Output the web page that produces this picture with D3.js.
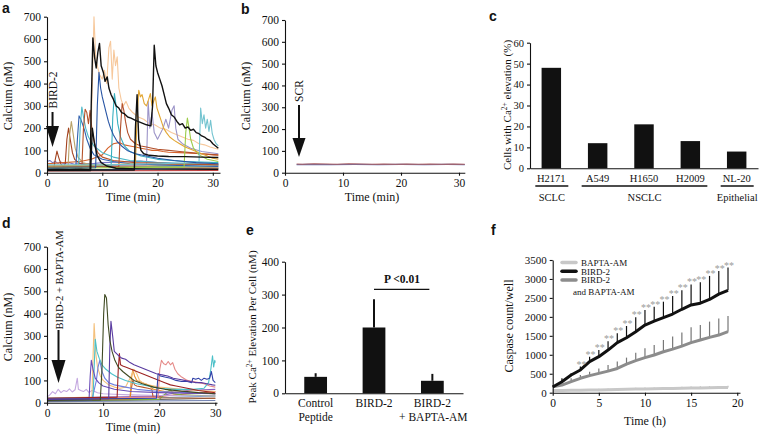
<!DOCTYPE html>
<html><head><meta charset="utf-8">
<script src="https://cdn.jsdelivr.net/npm/d3@7/dist/d3.min.js"></script>
<style>html,body{margin:0;padding:0;background:#fff}svg{display:block}
svg text{font-family:"Liberation Serif","Times New Roman",serif}
svg text.lt{font-family:"Liberation Sans",Arial,sans-serif}
</style>
</head><body>
<svg id="fig" width="762" height="436"></svg>
<script>
// ---------------- DATA ----------------
const calciumTicks = [0,100,200,300,400,500,600,700];
const timeMinTicks = [0,10,20,30];

// Panel a: Ca2+ traces after BIRD-2, each [time (min), calcium (nM)]
const panelATraces = [
  [[0,8],[31,10]],
  [[0,12],[10,14],[20,18],[31,20]],
  [[0,30],[10,32],[20,35],[31,40]],
  [[0,25],[15,28],[31,30]],
  [[0,50],[0.5,55],[1,45],[1.5,50],[2,42],[2.5,48],[3,40],[4,45],[5,38],[6,42],[8,40],[10,45],[14,48],[17,52],[20,45],[25,40],[31,35]],
  [[0,40],[3,45],[6,50],[8,60],[10,80],[11,110],[12,130],[13,135],[14,125],[15,120],[16,115],[17,110],[18,105],[19,100],[20,100],[21,95],[22,92],[24,90],[26,88],[28,85],[30,80],[31,78]],
  [[0,25],[5,28],[7.8,30],[8.2,400],[8.5,700],[8.8,520],[9.1,480],[9.5,440],[10,420],[10.4,460],[10.8,400],[11.2,560],[11.5,590],[11.8,420],[12.1,550],[12.4,480],[12.7,520],[13.0,380],[13.4,330],[13.8,300],[14.3,320],[14.8,290],[15.5,270],[16.5,250],[17.5,240],[18.5,220],[19.5,215],[20.5,200],[21.5,195],[22.5,180],[23.5,170],[24.5,160],[25.5,150],[26.5,145],[27.5,130],[28.5,125],[29.5,115],[31,105]],
  [[0,30],[18,35],[18.3,320],[18.6,200],[19.0,270],[19.4,180],[20,150],[21,200],[21.5,240],[22,200],[22.6,280],[23.0,300],[23.3,200],[23.7,150],[24.5,130],[26,110],[28,95],[31,85]],
  [[0,15],[1.2,15],[1.5,60],[1.8,97],[2.1,70],[2.5,40],[3.0,25],[3.3,40],[3.6,150],[3.9,200],[4.2,150],[4.6,90],[5.0,60],[6,40],[8,30],[12,25],[20,22],[31,20]],
  [[0,18],[3.8,20],[4.1,170],[4.4,230],[4.7,180],[5.1,110],[5.6,70],[6.5,45],[8,35],[12,28],[31,22]],
  [[0,15],[5.2,18],[5.5,150],[5.8,255],[6.1,240],[6.4,220],[6.8,190],[7.2,150],[7.8,110],[8.5,80],[10,60],[12,50],[15,40],[20,35],[31,28]],
  [[0,20],[5.7,22],[6.0,200],[6.3,295],[6.6,250],[7.0,200],[7.5,160],[8.5,120],[10,90],[12,70],[15,55],[20,45],[31,35]],
  [[0,20],[6.3,22],[6.6,200],[6.9,285],[7.2,270],[7.5,220],[7.8,280],[8.1,200],[8.6,130],[9.2,90],[10,70],[12,55],[16,45],[31,35]],
  [[0,25],[11.6,30],[11.9,250],[12.2,355],[12.5,300],[12.8,220],[13.3,160],[14,120],[15,95],[17,75],[20,60],[25,50],[31,45]],
  [[0,25],[13,28],[13.3,200],[13.6,310],[13.9,280],[14.2,230],[14.6,180],[15.1,150],[16,130],[17,120],[18,115],[19,110],[20,105],[22,100],[24,95],[26,90],[28,85],[31,80]],
  [[0,20],[24.8,25],[25.1,180],[25.4,245],[25.7,200],[26.0,150],[26.5,110],[27.5,80],[29,60],[31,50]],
  [[0,30],[10,35],[16.0,40],[16.3,250],[16.6,370],[16.9,340],[17.2,350],[17.6,310],[18.0,300],[18.4,330],[18.7,355],[19.0,300],[19.3,320],[19.6,340],[19.9,290],[20.3,260],[20.7,230],[21.1,200],[21.6,180],[22.2,160],[23,145],[24,130],[25,115],[26,105],[27,95],[28,85],[29,75],[30,65],[31,60]],
  [[0,35],[10,35],[20,40],[27.5,45],[27.8,290],[28.1,220],[28.4,260],[28.7,200],[29.0,240],[29.3,185],[29.6,235],[29.9,175],[30.2,150],[30.6,130],[31,120]],
  [[0,20],[8.8,22],[9.1,300],[9.4,450],[9.7,380],[10.0,340],[10.3,310],[10.7,270],[11.1,230],[11.5,200],[12,170],[12.7,140],[13.5,120],[14.5,100],[16,85],[18,75],[20,65],[23,55],[27,45],[31,40]],
  [[0,10],[7.9,10],[8.2,200],[8.6,130],[9.1,75],[9.8,45],[10.8,30],[12.5,20],[15,18],[20,16],[31,15]],
  [[0,12],[15.8,12],[16.0,200],[16.3,350],[16.6,150],[17.0,100],[17.5,85],[18.5,78],[20,75],[22,73],[25,72],[28,70],[31,68]],
  [[0,14],[2,15],[4,14],[6,16],[7.8,15],[8.0,300],[8.3,605],[8.6,520],[8.9,470],[9.2,540],[9.5,580],[9.8,480],[10.2,450],[10.5,410],[10.9,430],[11.2,380],[11.6,350],[12.0,330],[12.5,300],[13.0,290],[13.5,270],[14.0,265],[14.6,250],[15.2,245],[16,235],[17,225],[18,215],[18.8,210],[19.1,300],[19.4,572],[19.7,480],[20.0,450],[20.4,420],[20.8,390],[21.2,350],[21.6,310],[22.0,290],[22.5,260],[23.0,250],[23.5,230],[24.0,215],[24.5,220],[25.0,200],[25.5,205],[26.0,190],[26.5,195],[27.0,180],[27.5,175],[28.0,165],[28.5,160],[29.0,150],[29.5,145],[30.0,130],[30.5,120],[31,110]]
];
const panelAColors = ["#c04040","#4a7bd0","#e08a40","#5aa070","#7878c8","#d5632c","#f7c89b","#9c94c8","#a3421e","#b9a36a","#2f5fae","#4ab8c8","#b5532a","#39b0c0","#b2502c","#9ccc48","#e2a530","#74c4d0","#2754a4","#111111","#111111","#111111"];

// Panel b: scrambled peptide control
const panelBTraces = [
  [[2,37],[4,38],[8,37],[12,38],[16,37],[20,38],[24,37],[28,38],[31,37]],
  [[2,40],[3,39],[5,41],[7,40],[9,39],[11,41],[13,40],[15,39],[17,40],[19,39],[21,40],[23,39],[25,40],[27,39],[29,40],[31,39]]
];
const panelBColors = ["#6070b0","#b06060"];

// Panel c
const cCategories = ["H2171","A549","H1650","H2009","NL-20"];
const cValues = [48,12,21,13,8];
const cTicks = [0,10,20,30,40,50,60];
const cGroupLabels = ["SCLC","NSCLC","Epithelial"];
const cGroupMembers = [["H2171"],["A549","H1650","H2009"],["NL-20"]];

// Panel d: BIRD-2 + BAPTA-AM traces
const panelDTraces = [
  [[0,5],[30,10]],
  [[0,8],[15,12],[30,20]],
  [[0,12],[20,22],[30,30]],
  [[0,18],[10,20],[20,28],[25,40],[28,45],[30,50]],
  [[0,20],[20,30],[25,55],[30,60]],
  [[0,10],[20,15],[22,60],[22.5,40],[24,35],[30,30]],
  [[0,25],[0.5,35],[1,50],[1.5,40],[2,60],[2.5,45],[3,55],[3.5,50],[4,62],[4.5,48],[5,58],[5.4,110],[5.6,60],[6,55],[6.5,50],[7,60],[7.5,45],[8,55],[8.5,50],[9,45],[10,40],[12,38],[15,35],[20,32],[30,30]],
  [[0,15],[14.8,18],[15.0,60],[15.3,100],[15.6,80],[16,75],[17,70],[18,65],[18.7,60],[18.9,25],[20,22],[30,20]],
  [[0,15],[14.8,18],[15.0,100],[15.3,150],[15.6,120],[16,100],[17,90],[18,80],[19,60],[21,50],[25,45],[30,40]],
  [[0,20],[8.0,25],[8.2,200],[8.4,355],[8.7,220],[9.0,160],[9.5,120],[10,100],[11,80],[12,70],[13,65],[14,70],[15,120],[15.5,150],[16,130],[16.5,100],[17,90],[18,80],[20,70],[24,60],[30,50]],
  [[0,10],[8,12],[8.8,100],[9.1,160],[9.4,190],[9.8,140],[10.3,110],[11,90],[12,80],[14,70],[16,60],[20,50],[25,45],[30,40]],
  [[0,20],[19.8,25],[20.1,150],[20.4,190],[20.8,175],[21.2,170],[21.6,185],[22.0,170],[22.4,180],[22.8,150],[23.3,130],[24,115],[25,100],[26,95],[27,90],[28,85],[29,75],[30,70]],
  [[0,20],[8.2,22],[8.4,150],[8.6,285],[8.9,230],[9.3,200],[9.8,170],[10.5,150],[11.5,130],[12.5,115],[14,100],[16,85],[18,75],[20,65],[23,60],[26,60],[28,65],[28.8,90],[29.2,150],[29.5,210],[29.7,160],[29.9,190],[30,180]],
  [[0,15],[7.5,18],[7.7,120],[7.9,190],[8.2,150],[8.6,110],[9.2,90],[10,75],[12,60],[15,50],[20,45],[30,40]],
  [[0,20],[12.5,25],[12.7,150],[12.9,220],[13.1,170],[13.5,165],[14,160],[15,150],[16,140],[17,130],[18,120],[19,110],[20,100],[21,90],[22,80],[23,75],[25,65],[27,55],[30,45]],
  [[0,15],[19.5,20],[19.8,130],[20.2,120],[21,115],[22,110],[23,100],[24,95],[25,95],[25.8,90],[26.0,110],[26.5,105],[27,110],[27.5,100],[28,110],[28.5,105],[29,110],[29.3,140],[29.6,100],[30,90]],
  [[0,15],[11.0,18],[11.2,250],[11.4,365],[11.7,300],[12.0,230],[12.4,220],[12.8,210],[13.3,200],[14,195],[14.8,180],[15.5,170],[16.5,160],[17.5,150],[18.5,140],[19.5,130],[20.5,125],[21.5,120],[22.5,110],[23.5,105],[24.5,100],[25.5,95],[26.5,90],[27.5,90],[28.5,85],[29.5,80],[30,78]],
  [[0,10],[9.5,12],[9.8,150],[10.1,400],[10.3,485],[10.6,470],[10.9,350],[11.2,280],[11.6,230],[12.1,190],[12.7,160],[13.5,140],[14.5,120],[15.5,100],[17,85],[19,70],[21,60],[24,52],[27,45],[30,40]]
];
const panelDColors = ["#7080b0","#555555","#60a0d0","#d04030","#8a60c0","#7cb040","#c4a8e0","#b85a2a","#e8902a","#f4c07c","#6f7fe0","#e58a88","#4cc0c8","#6a4cb8","#9c2222","#3040a8","#5a3ca0","#3f4a22"];

// Panel e
const eCategories = ["Control Peptide","BIRD-2","BIRD-2 + BAPTA-AM"];
const eLabelLines = [["Control","Peptide"],["BIRD-2"],["BIRD-2","+ BAPTA-AM"]];
const eValues = [50,200,38];
const eErrorTops = [61,286,59];
const eTicks = [0,100,200,300,400];
const ePText = "P <0.01";
const ePLevel = 316;

// Panel f
const fHours = [0,1,2,3,4,5,6,7,8,9,10,11,12,13,14,15,16,17,18,19];
const fBird2 = [150,290,466,600,820,950,1125,1320,1450,1610,1785,1890,1980,2075,2200,2315,2360,2460,2600,2700];
const fBird2Top = [null,380,510,690,950,1125,1360,1565,1760,1990,2180,2270,2400,2550,2700,2855,2915,3080,3210,3300];
const fCombo = [158,200,290,380,450,510,570,640,755,845,925,995,1080,1150,1230,1320,1390,1460,1520,1610];
const fComboTop = [null,290,380,470,555,640,730,820,925,1055,1170,1260,1390,1480,1585,1725,1785,1875,1960,2020];
const fBapta = [55,58,62,66,70,74,80,84,90,95,100,104,108,112,118,122,126,130,134,138];
const fBaptaTop = [null,85,90,95,100,105,110,115,120,130,140,140,150,150,160,165,170,175,180,185];
const fStarHours = [3,4,5,6,7,8,9,10,11,12,13,14,15,16,17,18,19];
const fYTicks = [0,500,1000,1500,2000,2500,3000,3500];
const fXTicks = [0,5,10,15,20];
const fLegendNames = ["BAPTA-AM","BIRD-2","BIRD-2 and BAPTA-AM"];
const fLegendLines = [["BAPTA-AM"],["BIRD-2"],["BIRD-2","and BAPTA-AM"]];

// ---------------- DRAW ----------------
const svg = d3.select("#fig");
const INK = "#111";

function styleAxis(g, fs){
  g.attr("font-family",null);
  g.selectAll("text").attr("font-size",fs).attr("fill",INK);
  g.selectAll("path,line").attr("stroke",INK).attr("stroke-width",1.1);
}
function vtext(x,y,fs){
  return svg.append("text").attr("transform",`translate(${x},${y}) rotate(-90)`)
    .attr("text-anchor","middle").attr("font-size",fs).attr("fill",INK);
}
function htext(x,y,fs,str,anchor){
  return svg.append("text").attr("x",x).attr("y",y).attr("text-anchor",anchor||"middle")
    .attr("font-size",fs).attr("fill",INK).text(str);
}
function letter(x,y,s){
  svg.append("text").attr("class","lt").attr("x",x).attr("y",y).attr("font-weight","bold")
    .attr("font-size",14).attr("fill",INK).text(s);
}
function arrow(x,y0,yTip,headLen,headW){
  svg.append("line").attr("x1",x).attr("x2",x).attr("y1",y0).attr("y2",yTip-headLen+1)
    .attr("stroke",INK).attr("stroke-width",2);
  svg.append("path").attr("d",`M${x-headW/2},${yTip-headLen} L${x+headW/2},${yTip-headLen} L${x},${yTip} Z`).attr("fill",INK);
}
function tracePanel(traces, colors, x, y){
  const line = d3.line().x(d=>x(d[0])).y(d=>y(d[1]));
  traces.forEach((t,i)=>{
    svg.append("path").attr("d",line(t)).attr("fill","none")
      .attr("stroke",colors[i]).attr("stroke-width", colors[i]==="#111111"?1.4:1.1)
      .attr("stroke-linejoin","round");
  });
}

// ---- Panel a ----
const xA = d3.scaleLinear().domain([0,31.3]).range([47,220]);
const yA = d3.scaleLinear().domain([0,700]).range([172.7,16.7]);
tracePanel(panelATraces, panelAColors, xA, yA);
styleAxis(svg.append("g").attr("transform","translate(0,172.7)")
  .call(d3.axisBottom(xA).tickValues(timeMinTicks).tickSize(3).tickSizeOuter(0).tickPadding(3)),11.5);
styleAxis(svg.append("g").attr("transform","translate(47,0)")
  .call(d3.axisLeft(yA).tickValues(calciumTicks).tickSize(3).tickSizeOuter(0).tickPadding(3)),11.5);
vtext(12,96,12).text("Calcium (nM)");
htext(133,201,12,"Time (min)");
arrow(xA(1), 112, 147, 21, 13);
vtext(56.5,90,11.5).text("BIRD-2");
letter(2,13,"a");

// ---- Panel b ----
const xB = d3.scaleLinear().domain([0,31]).range([285,464.8]);
const yB = d3.scaleLinear().domain([0,700]).range([172.7,20]);
tracePanel(panelBTraces, panelBColors, xB, yB);
styleAxis(svg.append("g").attr("transform","translate(0,172.7)")
  .call(d3.axisBottom(xB).tickValues(timeMinTicks).tickSize(3).tickSizeOuter(0).tickPadding(3)),11.5);
styleAxis(svg.append("g").attr("transform","translate(285,0)")
  .call(d3.axisLeft(yB).tickValues(calciumTicks).tickSize(3).tickSizeOuter(0).tickPadding(3)),11.5);
vtext(250,96,12).text("Calcium (nM)");
htext(372,201,12,"Time (min)");
arrow(299, 105, 157, 19, 13);
vtext(303,91,11.5).text("SCR");
letter(241,14,"b");

// ---- Panel c ----
const xC = d3.scaleBand().domain(cCategories).range([530,758]).paddingInner(0.58).paddingOuter(0.25);
const yC = d3.scaleLinear().domain([0,60]).range([168.3,42.7]);
svg.append("g").selectAll("rect").data(cCategories).join("rect")
  .attr("x",d=>xC(d)).attr("width",xC.bandwidth())
  .attr("y",(d,i)=>yC(cValues[i])).attr("height",(d,i)=>yC(0)-yC(cValues[i])).attr("fill",INK);
styleAxis(svg.append("g").attr("transform","translate(0,168.3)")
  .call(d3.axisBottom(xC).tickSize(0).tickSizeOuter(0).tickPadding(6)),10.5);
styleAxis(svg.append("g").attr("transform","translate(530,0)")
  .call(d3.axisLeft(yC).tickValues(cTicks).tickSize(3).tickSizeOuter(0).tickPadding(3)),10.5);
cGroupMembers.forEach((m,i)=>{
  const x0 = xC(m[0]) + xC.bandwidth()/2 - 16, x1 = xC(m[m.length-1]) + xC.bandwidth()/2 + 17;
  svg.append("line").attr("x1",x0).attr("x2",x1).attr("y1",186).attr("y2",186).attr("stroke",INK).attr("stroke-width",1.5);
  htext((x0+x1)/2, 200.5, 10.5, cGroupLabels[i]);
});
{
  const t = vtext(511,105,11);
  t.append("tspan").text("Cells with Ca");
  t.append("tspan").attr("font-size",7.5).attr("dy",-4).text("2+");
  t.append("tspan").attr("dy",4).text(" elevation (%)");
}
letter(489,21,"c");

// ---- Panel d ----
const xD = d3.scaleLinear().domain([0,30.3]).range([47,217]);
const yD = d3.scaleLinear().domain([0,700]).range([402.7,246.7]);
tracePanel(panelDTraces, panelDColors, xD, yD);
styleAxis(svg.append("g").attr("transform","translate(0,402.7)")
  .call(d3.axisBottom(xD).tickValues(timeMinTicks).tickSize(3).tickSizeOuter(0).tickPadding(3)),11.5);
styleAxis(svg.append("g").attr("transform","translate(47,0)")
  .call(d3.axisLeft(yD).tickValues(calciumTicks).tickSize(3).tickSizeOuter(0).tickPadding(3)),11.5);
vtext(12,327,12).text("Calcium (nM)");
htext(133,431,12,"Time (min)");
arrow(58.5, 330, 383, 23, 14);
vtext(62.5,280,10.5).text("BIRD-2 + BAPTA-AM");
letter(2,228,"d");

// ---- Panel e ----
const xE = d3.scaleBand().domain(eCategories).range([285,463]).paddingInner(0.61).paddingOuter(0.33);
const yE = d3.scaleLinear().domain([0,400]).range([393.3,261.7]);
const cx = d=>xE(d)+xE.bandwidth()/2;
svg.append("g").selectAll("line").data(eCategories).join("line")
  .attr("x1",d=>cx(d)).attr("x2",d=>cx(d))
  .attr("y1",(d,i)=>yE(eValues[i])).attr("y2",(d,i)=>yE(eErrorTops[i]))
  .attr("stroke",INK).attr("stroke-width",2);
svg.append("g").selectAll("rect").data(eCategories).join("rect")
  .attr("x",d=>xE(d)).attr("width",xE.bandwidth())
  .attr("y",(d,i)=>yE(eValues[i])).attr("height",(d,i)=>yE(0)-yE(eValues[i])).attr("fill",INK);
styleAxis(svg.append("g").attr("transform","translate(0,393.3)")
  .call(d3.axisBottom(xE).tickSize(0).tickSizeOuter(0).tickFormat("")),11.5);
styleAxis(svg.append("g").attr("transform","translate(285,0)")
  .call(d3.axisLeft(yE).tickValues(eTicks).tickSize(3).tickSizeOuter(0).tickPadding(3)),11.5);
eCategories.forEach((c,i)=>{
  eLabelLines[i].forEach((s,j)=>{
    htext(cx(c)+(j===1&&i===2?1:0), 407+j*14, 11.5, s);
  });
});
svg.append("line").attr("x1",cx(eCategories[1])).attr("x2",cx(eCategories[2])-3)
  .attr("y1",yE(ePLevel)).attr("y2",yE(ePLevel)).attr("stroke",INK).attr("stroke-width",1.3);
htext(402,yE(ePLevel)-6,11.5,ePText).attr("font-weight","bold");
{
  const t = vtext(256,327,11);
  t.append("tspan").text("Peak Ca");
  t.append("tspan").attr("font-size",7.5).attr("dy",-4).text("2+");
  t.append("tspan").attr("dy",4).text(" Elevation Per Cell (nM)");
}
letter(246,235,"e");

// ---- Panel f ----
const xF = d3.scaleLinear().domain([0,20.3]).range([552.7,740]);
const yF = d3.scaleLinear().domain([0,3500]).range([392.7,260]);
const fSeries = {
  "BAPTA-AM": {v:fBapta, top:fBaptaTop, color:"#c8c8c8", err:"#bdbdbd"},
  "BIRD-2 and BAPTA-AM": {v:fCombo, top:fComboTop, color:"#8c8c8c", err:"#777"},
  "BIRD-2": {v:fBird2, top:fBird2Top, color:"#111", err:"#111"}
};
["BAPTA-AM","BIRD-2 and BAPTA-AM","BIRD-2"].forEach(k=>{
  const s = fSeries[k];
  svg.append("g").selectAll("line").data(fHours.filter((h,i)=>s.top[i]!==null)).join("line")
    .attr("x1",h=>xF(h)).attr("x2",h=>xF(h))
    .attr("y1",h=>yF(s.v[fHours.indexOf(h)])).attr("y2",h=>yF(s.top[fHours.indexOf(h)]))
    .attr("stroke",s.err).attr("stroke-width",1.2);
  svg.append("path").attr("d",d3.line().x((d,i)=>xF(fHours[i])).y(d=>yF(d))(s.v))
    .attr("fill","none").attr("stroke",s.color).attr("stroke-width",3).attr("stroke-linejoin","round");
});
svg.append("g").selectAll("text").data(fStarHours).join("text")
  .attr("x",h=>xF(h)+1).attr("y",h=>yF(fBird2Top[fHours.indexOf(h)])+1)
  .attr("text-anchor","middle").attr("font-size",10).attr("fill","#9a9a9a").text("**");
styleAxis(svg.append("g").attr("transform","translate(0,392.7)")
  .call(d3.axisBottom(xF).tickValues(fXTicks).tickSize(3).tickSizeOuter(0).tickPadding(3)),11.5);
styleAxis(svg.append("g").attr("transform","translate(552.7,0)")
  .call(d3.axisLeft(yF).tickValues(fYTicks).tickFormat(d3.format("d")).tickSize(3).tickSizeOuter(0).tickPadding(3)),11);
vtext(513,326,12).text("Caspase count/well");
htext(645,425,12,"Time (h)");
const legY = [262.5,271.3,280];
fLegendNames.forEach((k,i)=>{
  const s = fSeries[k];
  svg.append("line").attr("x1",562).attr("x2",576).attr("y1",legY[i]).attr("y2",legY[i])
    .attr("stroke",s.color).attr("stroke-width",3.5).attr("stroke-linecap","round");
  fLegendLines[i].forEach((l,j)=>{
    htext(j===0?581:573, legY[i]+3.2+j*11.5, 9, l, "start");
  });
});
letter(491,235,"f");
</script>
</body></html>
